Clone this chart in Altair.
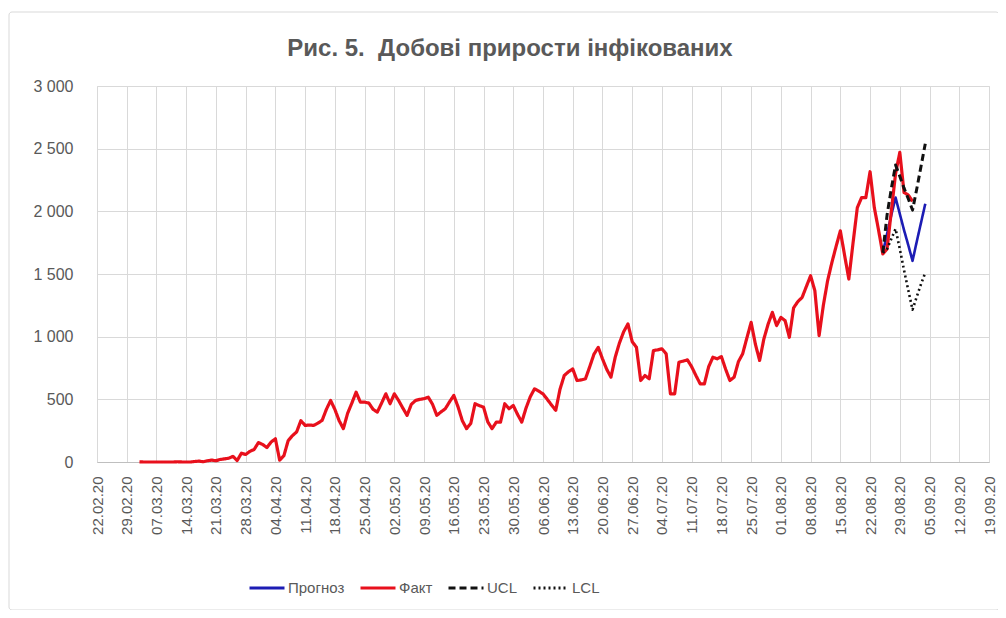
import altair as alt
import pandas as pd

# ---- data ----
fact_start = "2020-03-03"
fact = [1, 0, 0, 0, 0, 0, 0, 0, 0, 2, 0, 0, 0, 4, 7, 2, 10, 15, 10, 20,
        25, 30, 45, 12, 70, 60, 85, 100, 155, 140, 115, 160, 185, 15, 50, 170, 210, 240, 330, 292,
        295, 292, 310, 332, 420, 491, 420, 330, 266, 388, 470, 557, 478, 478, 470, 420, 398, 470, 544, 465,
        544, 491, 430, 372, 460, 491, 500, 505, 517, 460, 372, 400, 425, 480, 531, 440, 330, 266, 308, 465,
        450, 438, 320, 266, 318, 318, 465, 425, 451, 380, 318, 430, 520, 584, 565, 544, 500, 455, 412, 580,
        690, 720, 743, 650, 655, 664, 760, 860, 915, 823, 740, 677, 836, 950, 1040, 1102, 960, 915, 650, 690,
        664, 889, 895, 903, 863, 544, 544, 796, 805, 815, 760, 690, 624, 624, 760, 836, 823, 841, 740, 650,
        677, 800, 863, 990, 1114, 940, 810, 982, 1100, 1194, 1088, 1154, 1128, 995, 1230, 1280, 1313, 1400, 1486, 1367,
        1009, 1250, 1446, 1590, 1720, 1844, 1650, 1460, 1750, 2030, 2109, 2109, 2316, 2030, 1850, 1660, 1700, 2000, 2300, 2470,
        2150, 2130, 2080]

fc_start = "2020-08-25"
forecast = [1670, 1820, 1970, 2110, 1980, 1850, 1730, 1605, 1760, 1910, 2060]
ucl = [1670, 1970, 2180, 2370, 2280, 2185, 2100, 2010, 2180, 2360, 2540]
lcl = [1670, 1700, 1780, 1860, 1700, 1530, 1370, 1215, 1320, 1420, 1510]

series_names = ["Прогноз", "Факт", "UCL", "LCL"]
series_colors = ["#1c1cb4", "#e8101c", "#111111", "#111111"]
series_dash = [[1, 0], [1, 0], [7, 4], [2, 3]]

x_ticks = pd.date_range("2020-02-22", "2020-09-19", freq="7D")
y_ticks = [0, 500, 1000, 1500, 2000, 2500, 3000]
title_text = "Рис. 5.\u00a0\u00a0Добові прирости інфікованих"

# ---- table ----
def frame(name, start, vals):
    d = pd.date_range(start, periods=len(vals), freq="D").strftime("%Y-%m-%d")
    return pd.DataFrame({"date": d, "value": vals, "series": name})

df = pd.concat([
    frame("Прогноз", fc_start, forecast),
    frame("Факт", fact_start, fact),
    frame("UCL", fc_start, ucl),
    frame("LCL", fc_start, lcl),
], ignore_index=True)

TXT = "#595959"
FONT = "Liberation Sans"

x_enc = alt.X(
    "date:T",
    scale=alt.Scale(type="utc",
                    domain=[alt.DateTime(year=2020, month=2, date=22, utc=True),
                            alt.DateTime(year=2020, month=9, date=19, utc=True)]),
    axis=alt.Axis(values=[alt.DateTime(year=t.year, month=t.month, date=t.day, utc=True) for t in x_ticks],
                  labelExpr="utcFormat(datum.value, '%d.%m.%y')", labelAngle=270, grid=True,
                  gridColor="#d9d9d9", ticks=False, domainColor="#bfbfbf",
                  labelColor=TXT, labelFontSize=15, labelFont=FONT, labelPadding=14,
                  labelOverlap=False, labelFlush=False, labelBound=False, title=None),
)
y_enc = alt.Y(
    "value:Q",
    scale=alt.Scale(domain=[0, 3000], nice=False),
    axis=alt.Axis(values=y_ticks, labelExpr="replace(format(datum.value, ','), ',', '\u00a0')",
                  grid=True, gridColor="#d9d9d9", ticks=False, domain=False,
                  labelColor=TXT, labelFontSize=16, labelFont=FONT, labelPadding=24, title=None),
)
leg = alt.Legend(title=None, orient="none", direction="horizontal",
                 legendX=151, legendY=483, symbolType="stroke",
                 symbolSize=1225, symbolStrokeWidth=3,
                 labelFont=FONT, labelFontSize=15, labelColor=TXT,
                 labelOffset=2, columnPadding=9)
color_enc = alt.Color("series:N", scale=alt.Scale(domain=series_names, range=series_colors), legend=leg)
dash_enc = alt.StrokeDash("series:N", scale=alt.Scale(domain=series_names, range=series_dash), legend=leg)

base = alt.Chart(df).encode(x=x_enc, y=y_enc, color=color_enc, strokeDash=dash_enc)
widths = {"Прогноз": 2.6, "Факт": 3.2, "UCL": 3, "LCL": 2.6}
layers = [
    base.transform_filter(alt.datum.series == s).mark_line(strokeWidth=widths[s], strokeJoin="round")
    for s in series_names
]

frame_rect = alt.Chart(pd.DataFrame({"a": [0]})).mark_rect(
    fillOpacity=0, stroke="#d9d9d9", strokeWidth=1, cornerRadius=3
).encode(x=alt.value(-88), x2=alt.value(902), y=alt.value(-74), y2=alt.value(524))

title_layer = alt.Chart(pd.DataFrame({"t": [title_text]})).mark_text(
    font=FONT, fontSize=24, fontWeight="bold", color=TXT, align="center", baseline="alphabetic"
).encode(text="t:N", x=alt.value(413), y=alt.value(-30))

chart = alt.layer(frame_rect, title_layer, *layers).properties(
    width=892, height=376,
    autosize=alt.AutoSizeParams(type="none"),
    padding={"left": 89, "top": 78, "right": 9, "bottom": 148},
).configure_view(strokeWidth=0).configure(background="white")

chart.save("out.html", embed_options={"renderer": "svg", "actions": False})
